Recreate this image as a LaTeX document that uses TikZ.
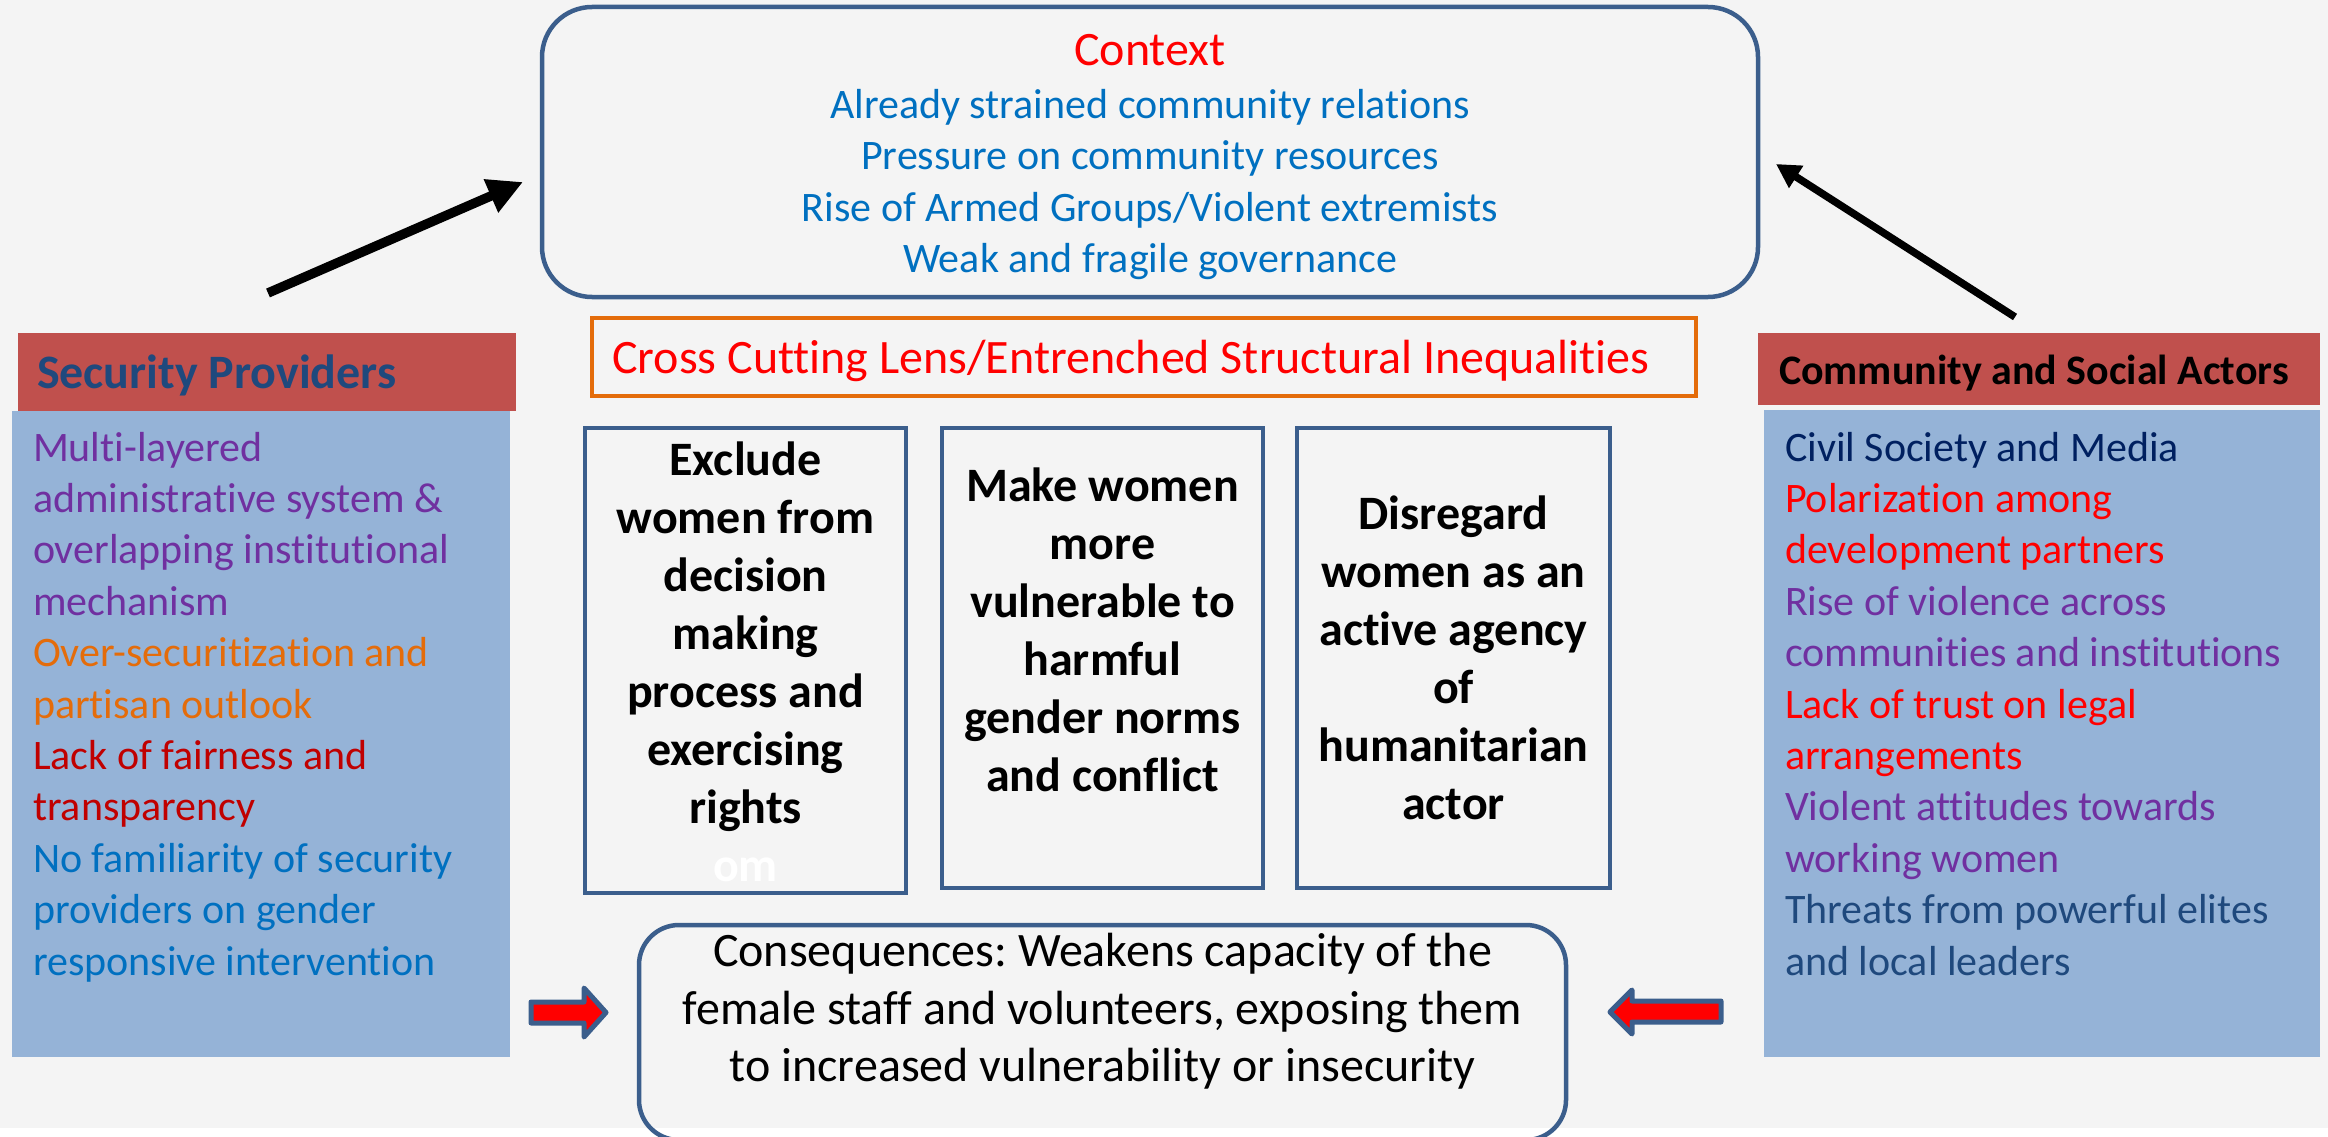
\documentclass[tikz,border=0pt]{standalone}
\usepackage{fontspec}
\setmainfont[Ligatures={NoCommon}]{Carlito}
\usetikzlibrary{arrows.meta}
\frenchspacing

\definecolor{bg}{HTML}{F4F4F4}
\definecolor{bord}{HTML}{3B5E8C}
\definecolor{panelblue}{HTML}{95B3D7}
\definecolor{headred}{HTML}{C0504D}
\definecolor{orng}{HTML}{E46C0A}
\definecolor{purp}{HTML}{7030A0}
\definecolor{dred}{HTML}{C00000}
\definecolor{blu}{HTML}{0070C0}
\definecolor{navy}{HTML}{002060}
\definecolor{steel}{HTML}{1F497D}
\definecolor{pure}{HTML}{FF0000}

\newcommand\fsmall{\fontsize{42}{51.4}\selectfont}
\newcommand\fctx{\fontsize{42}{51.5}\selectfont}
\newcommand\fbig{\fontsize{48}{58}\selectfont}
\newcommand\fcons{\fontsize{48}{57.5}\selectfont}

\begin{document}
\begin{tikzpicture}[x=1pt,y=-1pt,
  every node/.style={inner sep=0pt,outer sep=0pt},
  panel/.style={fill=panelblue,anchor=north west},
  header/.style={fill=headred,anchor=north west},
  frame/.style={draw=bord,line width=4.5pt},
  listtext/.style={anchor=north west,align=left,font=\fsmall},
  boldtext/.style={anchor=north,align=center,font=\fbig\bfseries},
  blockarrow/.style={draw=bord,fill=pure,line width=5pt,line join=round},
]
\useasboundingbox (0,0) rectangle (2328,1137);
\fill[white] (0,0) rectangle (2328,1137);
\fill[bg] (0,0) rectangle (2328,1128);

% Context box
\node[frame,rounded corners=50pt,minimum width=1216pt,minimum height=290pt] (ctx) at (1150,152) {};
\node[anchor=base,font=\fbig,text=pure] (ctxtitle) at (1150,66) {Context};
\node[anchor=north,align=center,font=\fctx,text=blu] (ctxlist) at (1150,82.2)
  {\strut Already strained community relations\\
   Pressure on community resources\\
   Rise of Armed Groups/Violent extremists\\
   Weak and fragile governance};

% Cross cutting lens
\node[draw=orng,line width=4pt,minimum width=1104pt,minimum height=78pt] (lens) at (1144,357) {};
\node[anchor=base,font=\fbig,text=pure] (lenstext) at (1131,373)
  {Cross Cutting Lens/Entrenched Structural Inequalities};

% Three effect boxes
\node[frame,minimum width=321pt,minimum height=465pt] (box1) at (745.5,660.5) {};
\node[frame,minimum width=321pt,minimum height=460pt] (box2) at (1102.5,658) {};
\node[frame,minimum width=313pt,minimum height=460pt] (box3) at (1453.5,658) {};
\node[boldtext] (t1) at (745.5,434.4)
  {\strut Exclude\\women from\\decision\\making\\process and\\exercising\\rights\\\textcolor{white}{om}};
\node[boldtext] (t2) at (1102.5,461)
  {\strut Make women\\more\\vulnerable to\\harmful\\gender norms\\and conflict};
\node[boldtext] (t3) at (1453.5,488.7)
  {\strut Disregard\\women as an\\active agency\\of\\humanitarian\\actor};

% Consequences box
\node[frame,rounded corners=40pt,minimum width=927pt,minimum height=215pt] (cons) at (1102.5,1032.5) {};
\node[anchor=north,align=center,font=\fcons] (constext) at (1102.5,926.4)
  {\strut Consequences: Weakens capacity of the\\
   female staff and volunteers, exposing them\\
   to increased vulnerability or insecurity};

% Security providers panel
\node[header,minimum width=498pt,minimum height=78pt] (lhead) at (18,333) {};
\node[panel,minimum width=498pt,minimum height=646pt] (lpanel) at (12,411) {};
\node[anchor=base west,font=\fbig\bfseries,text=steel] (lheadtext) at (37,388.5) {Security Providers};
\node[listtext] (llist) at (33,425.2)
  {\strut\textcolor{purp}{Multi-layered}\\
   \textcolor{purp}{administrative system \&}\\
   \textcolor{purp}{overlapping institutional}\\
   \textcolor{purp}{mechanism}\\
   \textcolor{orng}{Over-securitization and}\\
   \textcolor{orng}{partisan outlook}\\
   \textcolor{dred}{Lack of fairness and}\\
   \textcolor{dred}{transparency}\\
   \textcolor{blu}{No familiarity of security}\\
   \textcolor{blu}{providers on gender}\\
   \textcolor{blu}{responsive intervention}};

% Community and social actors panel
\node[header,minimum width=562pt,minimum height=72pt] (rhead) at (1758,333) {};
\node[panel,minimum width=556pt,minimum height=647pt] (rpanel) at (1764,410) {};
\node[anchor=base west,font=\fsmall\bfseries,text=black] (rheadtext) at (1779,384) {Community and Social Actors};
\node[listtext] (rlist) at (1785,425.2)
  {\strut\textcolor{navy}{Civil Society and Media}\\
   \textcolor{pure}{Polarization among}\\
   \textcolor{pure}{development partners}\\
   \textcolor{purp}{Rise of violence across}\\
   \textcolor{purp}{communities and institutions}\\
   \textcolor{pure}{Lack of trust on legal}\\
   \textcolor{pure}{arrangements}\\
   \textcolor{purp}{Violent attitudes towards}\\
   \textcolor{purp}{working women}\\
   \textcolor{steel}{Threats from powerful elites}\\
   \textcolor{steel}{and local leaders}};

% Arrows pointing up to the context
\coordinate (la) at (268,293);
\coordinate (lb) at (523,182);
\coordinate (ra) at (2015,317);
\coordinate (rb) at (1776,164);
\draw[line width=9.5pt,-{Triangle[length=35pt,width=34pt]}] (la) -- (lb);
\draw[line width=7.5pt,-{Triangle[length=24pt,width=25pt]}] (ra) -- (rb);

% Block arrows pointing at the consequences
\draw[blockarrow] (531,1002) -- (584,1002) -- (584,988) -- (606,1012.5)
  -- (584,1037) -- (584,1023) -- (531,1023) -- cycle;
\draw[blockarrow] (1721,1001) -- (1632,1001) -- (1632,990) -- (1610,1012)
  -- (1632,1034) -- (1632,1022) -- (1721,1022) -- cycle;
\end{tikzpicture}
\end{document}
